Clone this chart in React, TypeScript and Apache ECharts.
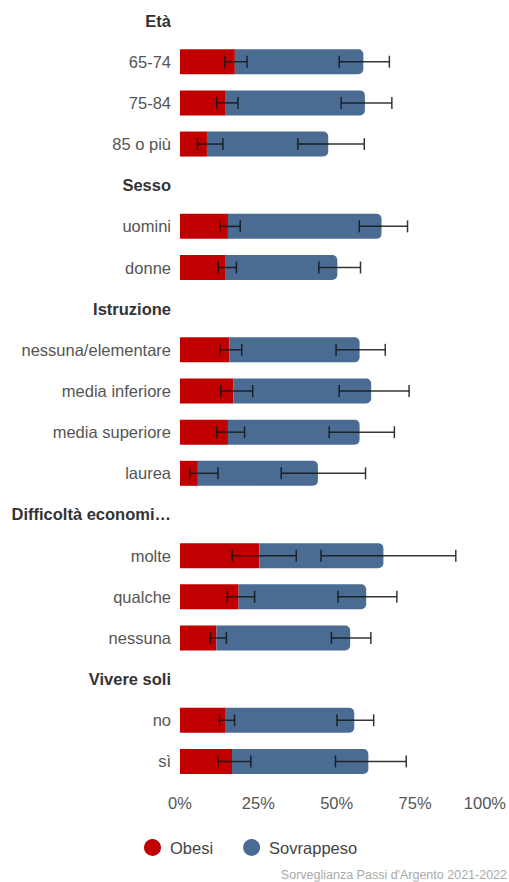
import React, { useEffect, useRef } from "react";
import * as echarts from "echarts";

const categories = [
  "Età", "65-74", "75-84", "85 o più",
  "Sesso", "uomini", "donne",
  "Istruzione", "nessuna/elementare", "media inferiore", "media superiore", "laurea",
  "Difficoltà economiche", "molte", "qualche", "nessuna",
  "Vivere soli", "no", "sì",
];
const headers = ["Età", "Sesso", "Istruzione", "Difficoltà economiche", "Vivere soli"];

const obesi = [null, 17.5, 14.6, 8.6, null, 15.3, 14.6, null, 15.8, 17.0, 15.3, 5.7, null, 25.3, 18.7, 11.6, null, 14.6, 16.6];
const sovrappeso = [null, 41.0, 44.4, 38.7, null, 49.0, 35.6, null, 41.5, 44.0, 42.0, 38.3, null, 39.6, 40.7, 42.7, null, 41.0, 43.5];

const obesiLow = [null, 14.3, 11.7, 5.6, null, 12.7, 12.2, null, 12.7, 13.0, 11.7, 3.1, null, 16.7, 15.1, 9.7, null, 12.6, 12.1];
const obesiHigh = [null, 21.4, 18.5, 13.7, null, 19.2, 18.0, null, 19.7, 23.2, 20.6, 12.1, null, 37.1, 23.8, 14.8, null, 17.4, 22.6];
const totLow = [null, 50.8, 51.4, 37.6, null, 57.2, 44.3, null, 49.8, 50.8, 47.6, 32.3, null, 45.0, 50.4, 48.3, null, 50.1, 49.6];
const totHigh = [null, 66.8, 67.6, 58.8, null, 72.6, 57.6, null, 65.5, 73.1, 68.4, 59.2, null, 88.0, 69.2, 60.9, null, 61.8, 72.2];

const FONT = "'Liberation Sans', Arial, Helvetica, sans-serif";
const FS = 16.5;
const MAX_LABEL = 19;

function shorten(s: string) {
  return s.length > MAX_LABEL ? s.slice(0, MAX_LABEL - 1) + "…" : s;
}

function errData(lo: (number | null)[], hi: (number | null)[]) {
  const out: any[] = [];
  lo.forEach((l, i) => {
    if (l != null && hi[i] != null) out.push([l, hi[i], i]);
  });
  return out;
}

function renderErr(params: any, api: any) {
  const lo = api.value(0);
  const hi = api.value(1);
  const idx = api.value(2);
  const p1 = api.coord([lo, idx]);
  const p2 = api.coord([hi, idx]);
  const h = 6;
  const style = { stroke: "rgba(20,20,20,0.85)", lineWidth: 1.5 };
  return {
    type: "group",
    children: [
      { type: "line", shape: { x1: p1[0], y1: p1[1], x2: p2[0], y2: p2[1] }, style },
      { type: "line", shape: { x1: p1[0], y1: p1[1] - h, x2: p1[0], y2: p1[1] + h }, style },
      { type: "line", shape: { x1: p2[0], y1: p2[1] - h, x2: p2[0], y2: p2[1] + h }, style },
    ],
  };
}

export default function App() {
  const ref = useRef<HTMLDivElement>(null);
  useEffect(() => {
    if (!ref.current) return;
    const chart = echarts.init(ref.current, null, { renderer: "svg" });
    chart.setOption({
      animation: false,
      textStyle: { fontFamily: FONT },
      grid: { left: 180, right: 14, top: -2, bottom: 100, containLabel: false },
      xAxis: {
        type: "value",
        min: 0,
        max: 100,
        interval: 25,
        splitLine: { show: false },
        axisLine: { show: false },
        axisTick: { show: false },
        axisLabel: {
          margin: 12,
          fontSize: FS,
          color: "#555",
          fontFamily: FONT,
          formatter: (v: number) => (v === 100 ? "{m|" + v + "%}" : v + "%"),
          rich: { m: { fontSize: FS, color: "#555", fontFamily: FONT, padding: [0, 17, 0, 0] } },
        },
      },
      yAxis: {
        type: "category",
        inverse: true,
        data: categories,
        axisLine: { show: false },
        axisTick: { show: false },
        axisLabel: {
          margin: 9,
          fontSize: FS,
          color: "#555",
          fontFamily: FONT,
          formatter: (v: string) => (headers.includes(v) ? "{h|" + shorten(v) + "}" : "{n|" + v + "}"),
          rich: {
            h: { fontSize: FS, fontWeight: "bold", color: "#333", fontFamily: FONT },
            n: { fontSize: FS, color: "#555", fontFamily: FONT },
          },
        },
      },
      legend: {
        top: 834,
        left: 139,
        icon: "circle",
        itemWidth: 17,
        itemHeight: 17,
        itemGap: 30,
        data: ["Obesi", "Sovrappeso"],
        textStyle: { fontSize: FS, color: "#444", fontFamily: FONT, padding: [0, 0, 0, 4] },
      },
      graphic: [
        {
          type: "text",
          right: 2,
          bottom: 1,
          style: { text: "Sorveglianza Passi d'Argento 2021-2022", fontSize: 12.5, fill: "#aaa", fontFamily: FONT },
        },
      ],
      series: [
        {
          name: "Obesi",
          type: "bar",
          stack: "tot",
          barWidth: 25,
          data: obesi,
          itemStyle: { color: "#C00000" },
        },
        {
          name: "Sovrappeso",
          type: "bar",
          stack: "tot",
          barWidth: 25,
          data: sovrappeso,
          itemStyle: { color: "#4A6B92", borderRadius: [0, 5, 5, 0] },
        },
        {
          name: "errObesi",
          type: "custom",
          renderItem: renderErr,
          data: errData(obesiLow, obesiHigh),
          encode: { x: [0, 1], y: 2 },
          z: 10,
        },
        {
          name: "errTot",
          type: "custom",
          renderItem: renderErr,
          data: errData(totLow, totHigh),
          encode: { x: [0, 1], y: 2 },
          z: 10,
        },
      ],
    });
    return () => chart.dispose();
  }, []);
  return (
    <div
      ref={ref}
      style={{ position: "absolute", left: 0, top: 0, width: 509, height: 882 }}
    />
  );
}
